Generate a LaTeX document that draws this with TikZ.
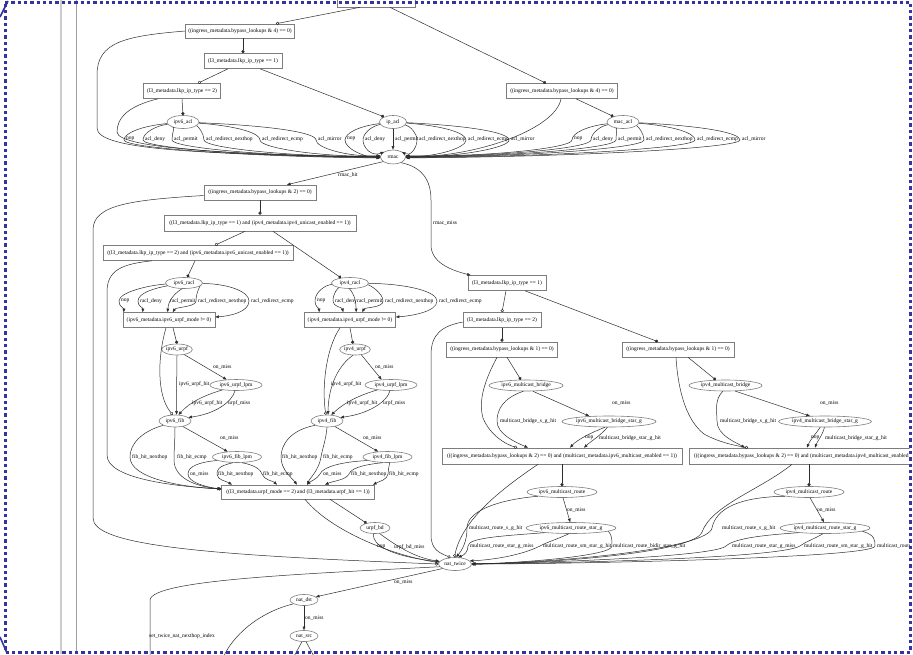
\documentclass[tikz,border=0pt]{standalone}
\usepackage{fontspec}
\setmainfont{Liberation Serif}
\usetikzlibrary{shapes.geometric,arrows.meta}
\definecolor{framecol}{RGB}{52,52,160}
\definecolor{edgecol}{RGB}{45,45,45}
\definecolor{nodecol}{RGB}{125,125,125}
\newcommand\gvsize{\fontsize{5.5}{6.6}\selectfont}
\begin{document}
\begin{tikzpicture}[x=1pt,y=1pt,
  box/.style={draw=nodecol, line width=0.6pt, rectangle, inner sep=0pt, minimum height=15pt, font=\gvsize},
  ell/.style={draw=nodecol, line width=0.6pt, ellipse, inner sep=0pt, minimum height=12pt, font=\gvsize},
  lbl/.style={font=\gvsize, inner sep=0pt, anchor=west},
  ed/.style={draw=edgecol, line width=0.5pt},
  tri/.style={ed, -{Triangle[length=3.6pt,width=2.8pt]}},
  yesdot/.style={ed, -{Circle[length=3.2pt]}},
  nodot/.style={ed, -{Circle[open,length=3.2pt]}},
]
\useasboundingbox (0,0) rectangle (913,-654);
\fill[white] (0,0) rectangle (913,-654);

\begin{scope}
\clip (0,0) rectangle (909.5,-654);

% side rules
\draw[gray!40, line width=1.2pt] (61,0) -- (61,-654);
\draw[gray!75, line width=0.8pt] (76,0) -- (76,-654);

% ---------- decision boxes and tables ----------
\node[box, minimum width=78pt, minimum height=16pt] (top) at (376,1) {};
\node[box, minimum width=109pt, minimum height=14pt] (B4L) at (240,-31) {((ingress\_metadata.bypass\_lookups \& 4) == 0)};
\node[box, minimum width=78pt] (L3T1) at (243,-61) {(l3\_metadata.lkp\_ip\_type == 1)};
\node[box, minimum width=77pt] (L3T2) at (182,-91) {(l3\_metadata.lkp\_ip\_type == 2)};
\node[box, minimum width=111pt] (B4R) at (562,-91) {((ingress\_metadata.bypass\_lookups \& 4) == 0)};
\node[ell, minimum width=32pt, minimum height=13pt] (ipv6_acl) at (183,-122) {ipv6\_acl};
\node[ell, minimum width=27pt, minimum height=13pt] (ip_acl) at (393,-122) {ip\_acl};
\node[ell, minimum width=32pt, minimum height=13pt] (mac_acl) at (623,-122) {mac\_acl};
\node[ell, minimum width=25pt, minimum height=14pt] (rmac) at (393,-157) {rmac};

\node[box, minimum width=112pt] (B2) at (260,-192.5) {((ingress\_metadata.bypass\_lookups \& 2) == 0)};
\node[box, minimum width=192pt, minimum height=16pt] (C1) at (260,-223) {((l3\_metadata.lkp\_ip\_type == 1) and (ipv4\_metadata.ipv4\_unicast\_enabled == 1))};
\node[box, minimum width=190pt] (C2) at (198,-253) {((l3\_metadata.lkp\_ip\_type == 2) and (ipv6\_metadata.ipv6\_unicast\_enabled == 1))};
\node[ell, minimum width=37pt, minimum height=11pt] (ipv6_racl) at (184,-283) {ipv6\_racl};
\node[ell, minimum width=37pt, minimum height=11pt] (ipv4_racl) at (350,-283) {ipv4\_racl};
\node[box, minimum width=92pt] (V6U) at (169,-320) {(ipv6\_metadata.ipv6\_urpf\_mode != 0)};
\node[box, minimum width=91pt] (V4U) at (350,-320) {(ipv4\_metadata.ipv4\_urpf\_mode != 0)};
\node[ell, minimum width=29pt, minimum height=11pt] (ipv6_urpf) at (177,-349.5) {ipv6\_urpf};
\node[ell, minimum width=30pt, minimum height=11pt] (ipv4_urpf) at (355,-349.5) {ipv4\_urpf};
\node[ell, minimum width=52pt, minimum height=11pt] (ipv6_urpf_lpm) at (236,-385) {ipv6\_urpf\_lpm};
\node[ell, minimum width=52pt, minimum height=11pt] (ipv4_urpf_lpm) at (391,-385) {ipv4\_urpf\_lpm};
\node[ell, minimum width=32pt, minimum height=12pt] (ipv6_fib) at (175,-421) {ipv6\_fib};
\node[ell, minimum width=32pt, minimum height=12pt] (ipv4_fib) at (327,-421) {ipv4\_fib};
\node[ell, minimum width=49pt, minimum height=11pt] (ipv6_fib_lpm) at (237,-457) {ipv6\_fib\_lpm};
\node[ell, minimum width=49pt, minimum height=11pt] (ipv4_fib_lpm) at (387.5,-457) {ipv4\_fib\_lpm};
\node[box, minimum width=153pt, minimum height=14pt] (U2) at (298,-492) {((l3\_metadata.urpf\_mode == 2) and (l3\_metadata.urpf\_hit == 1))};
\node[ell, minimum width=30pt, minimum height=11pt] (urpf_bd) at (375,-528) {urpf\_bd};
\node[ell, minimum width=33pt, minimum height=13pt] (nat_twice) at (455,-564) {nat\_twice};
\node[ell, minimum width=28pt, minimum height=11pt] (nat_dst) at (304,-600) {nat\_dst};
\node[ell, minimum width=28pt, minimum height=11pt] (nat_src) at (304,-636) {nat\_src};

\node[box, minimum width=78pt] (L3T1b) at (507,-283) {(l3\_metadata.lkp\_ip\_type == 1)};
\node[box, minimum width=78pt] (L3T2b) at (502,-320) {(l3\_metadata.lkp\_ip\_type == 2)};
\node[box, minimum width=111pt] (B1L) at (502,-349.5) {((ingress\_metadata.bypass\_lookups \& 1) == 0)};
\node[box, minimum width=112pt] (B1R) at (678,-349.5) {((ingress\_metadata.bypass\_lookups \& 1) == 0)};
\node[ell, minimum width=74pt, minimum height=11pt] (ipv6_mb) at (526,-385.5) {ipv6\_multicast\_bridge};
\node[ell, minimum width=73pt, minimum height=11pt] (ipv4_mb) at (725.5,-385.5) {ipv4\_multicast\_bridge};
\node[ell, minimum width=94pt, minimum height=11pt] (ipv6_mbsg) at (609,-421.5) {ipv6\_multicast\_bridge\_star\_g};
\node[ell, minimum width=90pt, minimum height=11pt] (ipv4_mbsg) at (825,-421.5) {ipv4\_multicast\_bridge\_star\_g};
\node[box, minimum width=240pt, minimum height=16pt] (M6) at (562,-456) {(((ingress\_metadata.bypass\_lookups \& 2) == 0) and (multicast\_metadata.ipv6\_multicast\_enabled == 1))};
\node[box, minimum width=240pt, minimum height=16pt] (M4) at (809,-456) {(((ingress\_metadata.bypass\_lookups \& 2) == 0) and (multicast\_metadata.ipv4\_multicast\_enabled == 1))};
\node[ell, minimum width=70pt, minimum height=11pt] (ipv6_mr) at (562,-492) {ipv6\_multicast\_route};
\node[ell, minimum width=70pt, minimum height=11pt] (ipv4_mr) at (809,-492) {ipv4\_multicast\_route};
\node[ell, minimum width=90pt, minimum height=11pt] (ipv6_mrsg) at (571,-528) {ipv6\_multicast\_route\_star\_g};
\node[ell, minimum width=90pt, minimum height=11pt] (ipv4_mrsg) at (825,-528) {ipv4\_multicast\_route\_star\_g};

% ---------- top decisions ----------
\draw[nodot] ([xshift=-16pt]top.south) -- ([xshift=36pt]B4L.north);
\draw[yesdot] ([xshift=14pt]top.south) -- ([xshift=-16pt]B4R.north);
\draw[yesdot] ([xshift=3pt]B4L.south) -- (L3T1.north);
\draw[nodot] ([xshift=-15pt]L3T1.south) -- ([xshift=16pt]L3T2.north);
\draw[yesdot] ([xshift=17pt]L3T1.south) -- (ip_acl.150);
\draw[yesdot] (L3T2.south) -- (ipv6_acl.north);
\draw[yesdot] ([xshift=14pt]B4R.south) -- (mac_acl.150);
\draw[nodot] (B4L.west) .. controls (125,-36) and (97,-42) .. (97,-75) -- (97,-128)
   .. controls (97,-150) and (200,-154) .. (rmac.west);
\draw[nodot] ([xshift=-24pt]L3T2.south) .. controls (128,-106) and (117,-118) .. (117,-132)
   .. controls (117,-150) and (260,-155) .. (rmac.west);
\draw[nodot] ([xshift=-1pt]B4R.south) .. controls (556,-128) and (480,-157) .. (rmac.east);

% ---------- acl results into rmac ----------
\foreach \px/\txt/\anc in {124/nop/184,143/acl\_deny/182,172/acl\_permit/180,204/acl\_redirect\_nexthop/178,260/acl\_redirect\_ecmp/176,316/acl\_mirror/174}{
  \draw[tri] (ipv6_acl) .. controls ({183+0.7*(\px-183)},-126) and (\px,-133) .. (\px,-140)
     .. controls (\px,-148) and ({380+0.5*(\px-380)},-157) .. (rmac.\anc);
  \node[lbl] (la\px) at ({\px+2},-139) {\txt};
}
\foreach \px/\txt/\anc/\cx in {345/nop/183/362,363/acl\_deny/150/372,417/acl\_redirect\_nexthop/30/410,466/acl\_redirect\_ecmp/2/436,509/acl\_mirror/358/457}{
  \draw[tri] (ip_acl) .. controls ({393+0.7*(\px-393)},-126) and (\px,-133) .. (\px,-140)
     .. controls (\px,-148) and (\cx,-157) .. (rmac.\anc);
  \node[lbl] (lb\px) at ({\px+2},-139) {\txt};
}
\draw[tri] (ip_acl.south) -- (rmac.north);
\node[lbl] (lbperm) at (395,-139) {acl\_permit};
\foreach \px/\txt/\anc in {572/nop/6,591/acl\_deny/4,616/acl\_permit/2,644/acl\_redirect\_nexthop/0,695/acl\_redirect\_ecmp/358,740/acl\_mirror/356}{
  \draw[tri] (mac_acl) .. controls ({623+0.7*(\px-623)},-126) and (\px,-133) .. (\px,-140)
     .. controls (\px,-148) and ({405+0.5*(\px-405)},-157) .. (rmac.\anc);
  \node[lbl] (lc\px) at ({\px+2},-139) {\txt};
}

% ---------- rmac outcomes ----------
\draw[tri] (rmac.205) -- ([xshift=27pt]B2.north);
\node[lbl] (lrh) at (338,-175) {rmac\_hit};
\draw[tri] (rmac.-35) .. controls (422,-167) and (431,-180) .. (431,-200) -- (431,-245)
   .. controls (431,-262) and (450,-270) .. ([xshift=3pt]L3T1b.north west);
\node[lbl] (lrm) at (433,-223) {rmac\_miss};

\draw[yesdot] (B2.south) -- (C1.north);
\draw[nodot] ([yshift=-3pt]B2.west) .. controls (130,-200) and (93,-205) .. (93,-230) -- (93,-518)
   .. controls (93,-545) and (200,-555) .. (nat_twice.west);
\draw[nodot] ([xshift=-15pt]C1.south) -- ([xshift=17pt]C2.north);
\draw[yesdot] ([xshift=13pt]C1.south) -- (ipv4_racl.150);
\draw[yesdot] ([xshift=-3pt]C2.south) -- (ipv6_racl.60);
\draw[nodot] ([xshift=-46pt]C2.south) .. controls (122,-264) and (107,-270) .. (107,-292) -- (107,-455)
   .. controls (107,-478) and (170,-486) .. ([yshift=3pt]U2.west);

% ---------- racl ----------
\draw[tri] (ipv6_racl) .. controls (150,-285) and (119,-292) .. (119,-301) .. controls (119,-307) and (124,-308) .. ([xshift=1pt]V6U.north west);
\draw[tri] (ipv6_racl) .. controls (155,-288) and (138,-293) .. (138,-301) .. controls (138,-307) and (143,-307) .. ([xshift=20pt]V6U.north west);
\draw[tri] (ipv6_racl.250) .. controls (172,-295) and (168,-303) .. ([xshift=45pt]V6U.north west);
\draw[tri] (ipv6_racl) .. controls (200,-286) and (196,-293) .. (196,-301) .. controls (196,-307) and (176,-307) .. ([xshift=50pt]V6U.north west);
\draw[tri] (ipv6_racl) .. controls (230,-284) and (249,-292) .. (249,-301) .. controls (249,-312) and (230,-316) .. ([yshift=3pt]V6U.east);
\node[lbl] (lr1) at (121,-301) {nop};
\node[lbl] (lr2) at (140,-301) {racl\_deny};
\node[lbl] (lr3) at (170,-301) {racl\_permit};
\node[lbl] (lr4) at (198,-301) {racl\_redirect\_nexthop};
\node[lbl] (lr5) at (251,-301) {racl\_redirect\_ecmp};

\draw[tri] (ipv4_racl) .. controls (325,-285) and (315,-292) .. (315,-301) .. controls (315,-307) and (319,-308) .. ([xshift=15pt]V4U.north west);
\draw[tri] (ipv4_racl) .. controls (338,-288) and (333,-293) .. (333,-301) .. controls (333,-307) and (342,-307) .. ([xshift=39pt]V4U.north west);
\draw[tri] (ipv4_racl.265) .. controls (355,-295) and (356,-303) .. ([xshift=52pt]V4U.north west);
\draw[tri] (ipv4_racl) .. controls (370,-285) and (383,-293) .. (383,-301) .. controls (383,-308) and (365,-307) .. ([xshift=58pt]V4U.north west);
\draw[tri] (ipv4_racl) .. controls (410,-284) and (437,-292) .. (437,-301) .. controls (437,-312) and (410,-316) .. ([yshift=3pt]V4U.east);
\node[lbl] (lr6) at (317,-301) {nop};
\node[lbl] (lr7) at (335,-301) {racl\_deny};
\node[lbl] (lr8) at (357,-301) {racl\_permit};
\node[lbl] (lr9) at (385,-301) {racl\_redirect\_nexthop};
\node[lbl] (lr10) at (439,-301) {racl\_redirect\_ecmp};

% ---------- ipv6 urpf / fib ----------
\draw[yesdot] ([xshift=4pt]V6U.south) -- (ipv6_urpf.north);
\draw[nodot] ([xshift=-3pt]V6U.south) .. controls (158,-355) and (156,-395) .. (ipv6_fib.110);
\draw[tri] (ipv6_urpf.south) .. controls (177,-375) and (176,-400) .. (ipv6_fib.75);
\draw[tri] (ipv6_urpf.-35) -- (ipv6_urpf_lpm.150);
\draw[tri] (ipv6_urpf_lpm.200) .. controls (205,-395) and (190,-402) .. (ipv6_fib.60);
\draw[tri] (ipv6_urpf_lpm.-100) .. controls (232,-402) and (215,-414) .. (ipv6_fib.15);
\draw[tri] (ipv6_fib.-35) -- (ipv6_fib_lpm.150);
\draw[tri] (ipv6_fib.200) .. controls (140,-432) and (130,-445) .. (130,-457) .. controls (130,-478) and (180,-487) .. ([yshift=3pt]U2.west);
\draw[tri] (ipv6_fib.south) .. controls (175,-440) and (174,-450) .. (174,-460) .. controls (174,-480) and (200,-487) .. ([yshift=3pt]U2.west);
\draw[tri] (ipv6_fib_lpm.190) .. controls (200,-462) and (188,-466) .. (188,-474) .. controls (188,-482) and (205,-487) .. ([yshift=3pt]U2.west);
\draw[tri] (ipv6_fib_lpm.235) .. controls (218,-466) and (217,-470) .. (217,-474) .. controls (217,-480) and (226,-481) .. ([xshift=-66pt]U2.north);
\draw[tri] (ipv6_fib_lpm.-50) .. controls (255,-465) and (261,-470) .. (262,-474) .. controls (264,-480) and (273,-481) .. ([xshift=-21pt]U2.north);
\node[lbl] (lu1) at (213,-367) {on\_miss};
\node[lbl] (lu2) at (179,-384) {ipv6\_urpf\_hit};
\node[lbl] (lu3) at (192,-403) {ipv6\_urpf\_hit};
\node[lbl] (lu4) at (228,-403) {urpf\_miss};
\node[lbl] (lu5) at (220,-438) {on\_miss};
\node[lbl] (lu6) at (132,-457) {fib\_hit\_nexthop};
\node[lbl] (lu7) at (177,-457) {fib\_hit\_ecmp};
\node[lbl] (lu8) at (190,-474) {on\_miss};
\node[lbl] (lu9) at (218,-474) {fib\_hit\_nexthop};
\node[lbl] (lu10) at (263,-474) {fib\_hit\_ecmp};

% ---------- ipv4 urpf / fib ----------
\draw[yesdot] (V4U.south) -- (ipv4_urpf.110);
\draw[nodot] ([xshift=-10pt]V4U.south) .. controls (325,-350) and (322,-390) .. (ipv4_fib.100);
\draw[tri] (ipv4_urpf.250) .. controls (335,-368) and (328,-392) .. (ipv4_fib.80);
\draw[tri] (ipv4_urpf.-40) -- (ipv4_urpf_lpm.150);
\draw[tri] (ipv4_urpf_lpm.200) .. controls (360,-395) and (345,-402) .. (ipv4_fib.55);
\draw[tri] (ipv4_urpf_lpm.-100) .. controls (387,-402) and (368,-414) .. (ipv4_fib.15);
\draw[tri] (ipv4_fib.-35) -- (ipv4_fib_lpm.150);
\draw[tri] (ipv4_fib.200) .. controls (290,-430) and (281,-445) .. (281,-457) .. controls (281,-470) and (292,-478) .. ([xshift=-1pt]U2.north);
\draw[tri] (ipv4_fib.south) .. controls (326,-440) and (322,-450) .. (321,-457) .. controls (319,-470) and (310,-478) .. ([xshift=9pt]U2.north);
\draw[tri] (ipv4_fib_lpm.190) .. controls (340,-462) and (323,-467) .. (320,-474) .. controls (317,-479) and (311,-481) .. ([xshift=9pt]U2.north);
\draw[tri] (ipv4_fib_lpm.230) .. controls (360,-465) and (351,-469) .. (349,-474) .. controls (346,-480) and (333,-481) .. ([xshift=27pt]U2.north);
\draw[tri] (ipv4_fib_lpm.-70) .. controls (389,-467) and (388,-470) .. (388,-474) .. controls (387,-480) and (380,-481) .. ([xshift=75pt]U2.north);
\node[lbl] (lv1) at (375,-367) {on\_miss};
\node[lbl] (lv2) at (331,-384) {ipv4\_urpf\_hit};
\node[lbl] (lv3) at (347,-403) {ipv4\_urpf\_hit};
\node[lbl] (lv4) at (383,-403) {urpf\_miss};
\node[lbl] (lv5) at (363,-438) {on\_miss};
\node[lbl] (lv6) at (282,-457) {fib\_hit\_nexthop};
\node[lbl] (lv7) at (323,-457) {fib\_hit\_ecmp};
\node[lbl] (lv8) at (323,-474) {on\_miss};
\node[lbl] (lv9) at (351,-474) {fib\_hit\_nexthop};
\node[lbl] (lv10) at (389,-474) {fib\_hit\_ecmp};

% ---------- urpf_bd and nat ----------
\draw[yesdot] ([xshift=32pt]U2.south) -- (urpf_bd.150);
\draw[nodot] ([xshift=7pt]U2.south) .. controls (330,-530) and (390,-555) .. (nat_twice.175);
\draw[tri] (urpf_bd.255) .. controls (372,-545) and (390,-556) .. (nat_twice.172);
\draw[tri] (urpf_bd.-50) .. controls (395,-545) and (415,-558) .. (nat_twice.170);
\node[lbl] (lw1) at (377,-547) {nop};
\node[lbl] (lw2) at (394,-547) {urpf\_bd\_miss};
\draw[tri] (nat_twice.200) -- (nat_dst.15);
\node[lbl] (lw3) at (394,-582) {on\_miss};
\draw[tri] (nat_dst.south) -- (nat_src.north);
\node[lbl] (lw4) at (305,-618) {on\_miss};
\coordinate (endA) at (150,-660);
\coordinate (endB) at (222,-660);
\coordinate (endC) at (292,-660);
\coordinate (endD) at (316,-660);
\draw[ed] (nat_twice.190) .. controls (300,-574) and (152,-580) .. (150,-600) -- (endA);
\node[lbl] (lw5) at (149,-636) {set\_twice\_nat\_nexthop\_index};
\draw[ed] (nat_dst.200) .. controls (260,-612) and (232,-635) .. (endB);
\draw[ed] (nat_src.250) -- (endC);
\draw[ed] (nat_src.290) -- (endD);

% ---------- multicast (ipv6) ----------
\draw[nodot] ([xshift=-1pt]L3T1b.south) -- (L3T2b.north);
\draw[yesdot] ([xshift=18pt]L3T1b.south) -- ([xshift=-20pt]B1R.north);
\draw[yesdot] (L3T2b.south) -- (B1L.north);
\draw[nodot] ([yshift=-2pt]L3T2b.west) .. controls (442,-326) and (431,-334) .. (431,-355) -- (431,-535)
   .. controls (431,-550) and (440,-553) .. (nat_twice.125);
\draw[yesdot] ([xshift=5pt]B1L.south) -- (ipv6_mb.132);
\draw[nodot] ([xshift=-5pt]B1L.south) .. controls (485,-380) and (478,-400) .. (483,-418)
   .. controls (490,-435) and (505,-444) .. ([xshift=-45pt]M6.north);
\draw[tri] (ipv6_mb.245) .. controls (503,-398) and (497,-410) .. (497,-421) .. controls (497,-434) and (515,-442) .. ([xshift=-34pt]M6.north);
\draw[tri] (ipv6_mb.-40) -- (ipv6_mbsg.165);
\draw[tri] (ipv6_mbsg.235) .. controls (590,-433) and (577,-440) .. ([xshift=8pt]M6.north);
\draw[tri] (ipv6_mbsg.255) .. controls (600,-436) and (590,-442) .. ([xshift=22pt]M6.north);
\draw[yesdot] (M6.south) -- (ipv6_mr.north);
\draw[nodot] ([xshift=-24pt]M6.south) .. controls (500,-490) and (462,-520) .. (nat_twice.95);
\draw[tri] (ipv6_mr.190) .. controls (495,-500) and (467,-512) .. (467,-528) .. controls (467,-542) and (462,-550) .. (nat_twice.80);
\draw[tri] (ipv6_mr.-80) -- (ipv6_mrsg.98);
\draw[tri] (ipv6_mrsg.190) .. controls (500,-536) and (468,-538) .. (468,-546) .. controls (468,-552) and (464,-555) .. (nat_twice.65);
\draw[tri] (ipv6_mrsg.250) .. controls (555,-540) and (545,-543) .. (540,-546) .. controls (520,-556) and (490,-560) .. (nat_twice.12);
\draw[tri] (ipv6_mrsg.-5) .. controls (612,-535) and (612,-540) .. (612,-546) .. controls (612,-556) and (520,-563) .. (nat_twice.east);
\node[lbl] (lm1) at (612,-403) {on\_miss};
\node[lbl] (lm2) at (500,-421) {multicast\_bridge\_s\_g\_hit};
\node[lbl] (lm3) at (585,-438) {nop};
\node[lbl] (lm4) at (599,-438) {multicast\_bridge\_star\_g\_hit};
\node[lbl] (lm5) at (567,-510) {on\_miss};
\node[lbl] (lm6) at (469,-528) {multicast\_route\_s\_g\_hit};
\node[lbl] (lm7) at (470,-546) {multicast\_route\_star\_g\_miss};
\node[lbl] (lm8) at (543,-546) {multicast\_route\_sm\_star\_g\_hit};
\node[lbl] (lm9) at (613,-546) {multicast\_route\_bidir\_star\_g\_hit};

% ---------- multicast (ipv4) ----------
\draw[yesdot] ([xshift=10pt]B1R.south) -- (ipv4_mb.150);
\draw[nodot] ([xshift=-2pt]B1R.south) .. controls (678,-390) and (686,-420) .. (704,-434)
   .. controls (720,-443) and (738,-446) .. ([xshift=-61pt]M4.north);
\draw[tri] (ipv4_mb.245) .. controls (714,-400) and (717,-412) .. (717,-421) .. controls (717,-435) and (735,-442) .. ([xshift=-64pt]M4.north);
\draw[tri] (ipv4_mb.-30) -- (ipv4_mbsg.160);
\draw[tri] (ipv4_mbsg.230) .. controls (815,-435) and (810,-440) .. ([xshift=-2pt]M4.north);
\draw[tri] (ipv4_mbsg.265) .. controls (822,-436) and (817,-442) .. ([xshift=6pt]M4.north);
\draw[yesdot] (M4.south) -- (ipv4_mr.north);
\draw[nodot] ([xshift=-17pt]M4.south) .. controls (760,-490) and (712,-505) .. (702,-532)
   .. controls (695,-552) and (560,-563) .. (nat_twice.east);
\draw[tri] (ipv4_mr.190) .. controls (740,-497) and (716,-508) .. (712,-528) .. controls (708,-548) and (570,-562) .. (nat_twice.east);
\draw[tri] (ipv4_mr.-80) -- (ipv4_mrsg.100);
\draw[tri] (ipv4_mrsg.190) .. controls (765,-535) and (735,-538) .. (726,-546) .. controls (715,-556) and (570,-562) .. (nat_twice.east);
\draw[tri] (ipv4_mrsg.250) .. controls (812,-540) and (805,-542) .. (800,-546) .. controls (780,-558) and (570,-563) .. (nat_twice.east);
\draw[tri] (ipv4_mrsg.-5) .. controls (875,-535) and (875,-540) .. (875,-546) .. controls (875,-558) and (570,-564) .. (nat_twice.east);
\node[lbl] (ln1) at (820,-403) {on\_miss};
\node[lbl] (ln2) at (720,-421) {multicast\_bridge\_s\_g\_hit};
\node[lbl] (ln3) at (811,-438) {nop};
\node[lbl] (ln4) at (825,-438) {multicast\_bridge\_star\_g\_hit};
\node[lbl] (ln5) at (817,-510) {on\_miss};
\node[lbl] (ln6) at (722,-528) {multicast\_route\_s\_g\_hit};
\node[lbl] (ln7) at (732,-546) {multicast\_route\_star\_g\_miss};
\node[lbl] (ln8) at (804,-546) {multicast\_route\_sm\_star\_g\_hit};
\node[lbl] (ln9) at (877,-546) {multicast\_route\_bidir\_star\_g\_hit};
\end{scope}

% ---------- dotted focus frame ----------
\draw[framecol, line width=3pt, dash pattern=on 3.3pt off 3pt]
  (5,-2) -- (910.5,-2) -- (910.5,-652) -- (5,-652) -- cycle;
\draw[framecol, line width=1.6pt] (0,-17) -- (8,-1);
\draw[framecol, line width=1.6pt] (0,-637) -- (7,-653);
\end{tikzpicture}
\end{document}
